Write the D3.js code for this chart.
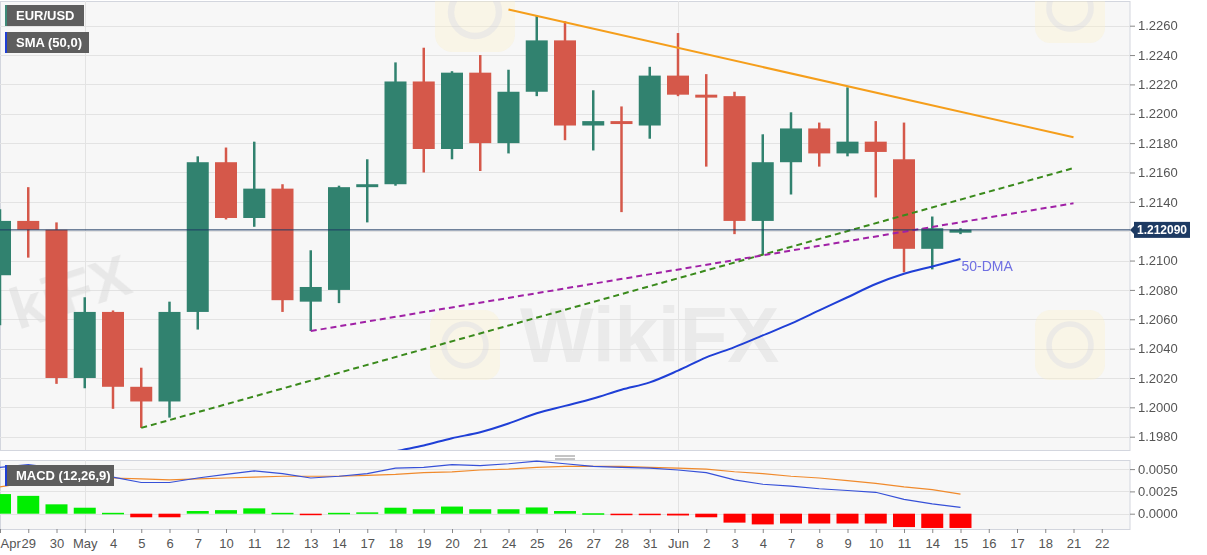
<!DOCTYPE html>
<html><head><meta charset="utf-8">
<script src="https://cdn.jsdelivr.net/npm/d3@7"></script>
<style>
body{margin:0;background:#fff;}
svg{display:block;font-family:"Liberation Sans",Arial,sans-serif;}
</style></head><body>
<svg id="c" width="1207" height="555"></svg>
<script>
// ---------- DATA ----------
const tickLabels = ["Apr","29","30","May","4","5","6","7","10","11","12","13","14","17","18","19","20","21","24","25","26","27","28","31","Jun","2","3","4","7","8","9","10","11","14","15","16","17","18","21","22"];
const monthStarts = [3, 24];
const open  = [1.2090,1.2127,1.2121,1.2020,1.2065,1.2014,1.2004,1.2065,1.2167,1.2129,1.2149,1.2072,1.2080,1.2150,1.2152,1.2222,1.2176,1.2228,1.2180,1.2215,1.2250,1.2192,1.2195,1.2192,1.2226,1.2213,1.2212,1.2127,1.2167,1.2190,1.2173,1.2181,1.2169,1.2108,1.2119];
const high  = [1.2135,1.2150,1.2126,1.2075,1.2066,1.2027,1.2072,1.2171,1.2177,1.2181,1.2152,1.2107,1.2151,1.2169,1.2235,1.2245,1.2229,1.2240,1.2230,1.2267,1.2263,1.2216,1.2205,1.2232,1.2255,1.2227,1.2215,1.2186,1.2201,1.2194,1.2218,1.2195,1.2194,1.2130,1.2122];
const low   = [1.2056,1.2102,1.2016,1.2013,1.1999,1.1986,1.1993,1.2053,1.2128,1.2123,1.2065,1.2052,1.2071,1.2126,1.2151,1.2160,1.2169,1.2161,1.2173,1.2212,1.2182,1.2175,1.2133,1.2183,1.2212,1.2164,1.2118,1.2104,1.2145,1.2164,1.2171,1.2143,1.2092,1.2094,1.2118];
const close = [1.2127,1.2121,1.2020,1.2065,1.2014,1.2004,1.2065,1.2167,1.2129,1.2149,1.2073,1.2082,1.2150,1.2152,1.2222,1.2176,1.2228,1.2180,1.2215,1.2250,1.2192,1.2195,1.2193,1.2226,1.2213,1.2211,1.2127,1.2167,1.2190,1.2173,1.2181,1.2174,1.2108,1.2122,1.2121];
const sma50 = [null,null,null,null,null,null,null,null,null,null,null,null,null,1.1965,1.1970,1.1974,1.1979,1.1983,1.1989,1.1996,1.2001,1.2006,1.2012,1.2017,1.2025,1.2034,1.2041,1.2049,1.2057,1.2066,1.2075,1.2084,1.2091,1.2096,1.2101];
const macdLine = [0.0052,0.0055,0.0051,0.0047,0.0041,0.0035,0.0035,0.0040,0.0044,0.0048,0.0045,0.0040,0.0042,0.0045,0.0051,0.0052,0.0055,0.0054,0.0056,0.0059,0.0056,0.0053,0.0052,0.0051,0.0049,0.0046,0.0038,0.0033,0.0031,0.0028,0.0026,0.0024,0.0016,0.0011,0.0007];
const signalLine = [0.0030,0.0035,0.0038,0.0040,0.0040,0.0039,0.0038,0.0039,0.0040,0.0041,0.0042,0.0042,0.0042,0.0043,0.0044,0.0046,0.0047,0.0049,0.0050,0.0052,0.0053,0.0053,0.0053,0.0052,0.0051,0.0050,0.0047,0.0045,0.0042,0.0040,0.0037,0.0034,0.0030,0.0027,0.0022];
const histogram = [0.0022,0.0020,0.00105,0.00067,0.0001,-0.0004,-0.0004,0.0003,0.0004,0.0006,0.0001,-0.00015,0.0001,0.00015,0.00067,0.0005,0.0008,0.0005,0.0005,0.0007,0.0003,0.00005,-0.0001,-0.0001,-0.0002,-0.0004,-0.0010,-0.0012,-0.0011,-0.0011,-0.0011,-0.0011,-0.0015,-0.0016,-0.0016];
const priceTicks = [1.1980,1.2000,1.2020,1.2040,1.2060,1.2080,1.2100,1.2120,1.2140,1.2160,1.2180,1.2200,1.2220,1.2240,1.2260];
const shownPriceTicks = [1.1980,1.2000,1.2020,1.2040,1.2060,1.2080,1.2100,1.2140,1.2160,1.2180,1.2200,1.2220,1.2240,1.2260];
const macdTicks = [0, 0.0025, 0.0050];
const lastPrice = 1.212090;
const resistance = [[18,1.2271],[38,1.2184]];
const supportGreen = [[5,1.1986],[38,1.2163]];
const supportPurple = [[11,1.2052],[38,1.2139]];

// ---------- LAYOUT ----------
const PR = 1130, mainTop = 1, mainBot = 450, macdTop = 460, macdBot = 529;
const svg = d3.select("#c");
const x = d3.scaleLinear().domain([0,40]).range([0,PR]);
const y = d3.scaleLinear().domain([1.1980,1.2260]).range([436.7,25.7]);
const ym = d3.scaleLinear().domain([0,0.005]).range([513.7,469.1]);
const GREEN = "#31826f", RED = "#d5584a";

const defs = svg.append("defs");
defs.append("clipPath").attr("id","cm").append("rect").attr("x",0).attr("y",mainTop).attr("width",PR).attr("height",mainBot-mainTop);
defs.append("clipPath").attr("id","cd").append("rect").attr("x",0).attr("y",macdTop).attr("width",PR).attr("height",macdBot-macdTop);

// panels
svg.append("rect").attr("x",0.5).attr("y",mainTop+0.5).attr("width",PR-0.5).attr("height",mainBot-mainTop).attr("fill","#f7f7f7").attr("stroke","#d3d6de");
svg.append("rect").attr("x",0.5).attr("y",macdTop+0.5).attr("width",PR-0.5).attr("height",macdBot-macdTop).attr("fill","#f7f7f7").attr("stroke","#d3d6de");

// grid
const gm = svg.append("g").attr("clip-path","url(#cm)");
gm.selectAll("line.h").data(priceTicks).join("line")
  .attr("x1",0).attr("x2",PR).attr("y1",d=>Math.round(y(d))+0.5).attr("y2",d=>Math.round(y(d))+0.5)
  .attr("stroke","#e3e3e3");
const gd = svg.append("g").attr("clip-path","url(#cd)");
gd.selectAll("line.h").data(macdTicks).join("line")
  .attr("x1",0).attr("x2",PR).attr("y1",d=>Math.round(ym(d))+0.5).attr("y2",d=>Math.round(ym(d))+0.5)
  .attr("stroke","#e3e3e3");
[gm,gd].forEach(g=>g.selectAll("line.v").data(monthStarts).join("line")
  .attr("x1",d=>Math.round(x(d))+0.5).attr("x2",d=>Math.round(x(d))+0.5)
  .attr("y1",0).attr("y2",555).attr("stroke","#e3e3e3"));

// watermarks
const wm = gm.append("g").attr("opacity",0.5);
function logo(cx,cy,s){
  wm.append("rect").attr("x",cx-s/2).attr("y",cy-s/2).attr("width",s).attr("height",s).attr("rx",s*0.22)
    .attr("fill","#fbefc8").attr("opacity",0.7);
  wm.append("circle").attr("cx",cx).attr("cy",cy).attr("r",s*0.3).attr("fill","none").attr("stroke","#e0ddd5").attr("stroke-width",s*0.08);
}
logo(475,12,80); logo(1070,8,70); logo(465,345,70); logo(1070,345,70);
wm.append("text").attr("x",520).attr("y",362).attr("font-size",78).attr("font-weight","bold").attr("fill","#dcdcdc").text("WikiFX");
wm.append("text").attr("transform","translate(18,330) rotate(-18)").attr("font-size",58).attr("font-weight","bold").attr("fill","#d8d8d8").text("kiFX");

// candles
const idx = d3.range(open.length);
const cg = gm.append("g");
cg.selectAll("line.w").data(idx).join("line")
  .attr("x1",i=>x(i)).attr("x2",i=>x(i)).attr("y1",i=>y(high[i])).attr("y2",i=>y(low[i]))
  .attr("stroke",i=>close[i]>=open[i]?GREEN:RED).attr("stroke-width",2.5);
cg.selectAll("rect.b").data(idx).join("rect")
  .attr("x",i=>x(i)-11).attr("width",22)
  .attr("y",i=>y(Math.max(open[i],close[i])))
  .attr("height",i=>Math.max(2,Math.abs(y(open[i])-y(close[i]))))
  .attr("fill",i=>close[i]>=open[i]?GREEN:RED);

// trend lines
const tl = d3.line().x(d=>x(d[0])).y(d=>y(d[1]));
gm.append("path").attr("d",tl(resistance)).attr("fill","none").attr("stroke","#f59e1b").attr("stroke-width",2);
gm.append("path").attr("d",tl(supportGreen)).attr("fill","none").attr("stroke","#3a8a1c").attr("stroke-width",2).attr("stroke-dasharray","6,4");
gm.append("path").attr("d",tl(supportPurple)).attr("fill","none").attr("stroke","#a021a6").attr("stroke-width",2).attr("stroke-dasharray","6,4");

// SMA
const smaLine = d3.line().defined(i=>sma50[i]!==null).x(i=>x(i)).y(i=>y(sma50[i])).curve(d3.curveMonotoneX);
gm.append("path").attr("d",smaLine(idx)).attr("fill","none").attr("stroke","#1f3fd6").attr("stroke-width",2);
gm.append("text").attr("x",x(34)+1).attr("y",y(sma50[34])+12).attr("font-size",14).attr("fill","#6f6fe2").text("50-DMA");

// last price line
gm.append("line").attr("x1",0).attr("x2",PR).attr("y1",y(lastPrice)).attr("y2",y(lastPrice)).attr("stroke","#1d3a63").attr("stroke-width",1);

// MACD
gd.selectAll("rect.h").data(idx).join("rect")
  .attr("x",i=>x(i)-11).attr("width",22)
  .attr("y",i=>ym(Math.max(0,histogram[i])))
  .attr("height",i=>Math.max(1.5,Math.abs(ym(histogram[i])-ym(0))))
  .attr("fill",i=>histogram[i]>=0?"#00ee00":"#ff0000");
const ml = arr => d3.line().x(i=>x(i)).y(i=>ym(arr[i]))(idx);
gd.append("path").attr("d",ml(signalLine)).attr("fill","none").attr("stroke","#f08a2c").attr("stroke-width",1.2);
gd.append("path").attr("d",ml(macdLine)).attr("fill","none").attr("stroke","#3650d8").attr("stroke-width",1.2);

// handle
[456,459].forEach(yy=>svg.append("line").attr("x1",555).attr("x2",575).attr("y1",yy).attr("y2",yy).attr("stroke","#8a8a8a"));

// axes
function styleAxis(g){
  g.select(".domain").remove();
  g.selectAll(".tick line").attr("stroke","#888");
  g.selectAll(".tick text").attr("fill","#555").attr("font-size",13).attr("font-family","'Liberation Sans',Arial,sans-serif");
}
svg.append("g").attr("transform",`translate(${PR},0)`)
  .call(d3.axisRight(y).tickValues(shownPriceTicks).tickSize(5).tickPadding(3).tickFormat(d3.format(".4f")))
  .call(styleAxis);
svg.append("g").attr("transform",`translate(${PR},0)`)
  .call(d3.axisRight(ym).tickValues(macdTicks).tickSize(5).tickPadding(3).tickFormat(d3.format(".4f")))
  .call(styleAxis);
const xa = svg.append("g").attr("transform",`translate(0,${macdBot})`)
  .call(d3.axisBottom(x).tickValues(d3.range(tickLabels.length)).tickSize(4).tickPadding(6).tickFormat(i=>tickLabels[i]))
  .call(styleAxis);
xa.selectAll(".tick").filter(d=>d===0).select("text").attr("text-anchor","start").attr("x",0);

// last price label
const ly = y(lastPrice);
svg.append("path").attr("d",`M${PR},${ly} L${PR+4},${ly-4} L${PR+4},${ly+4} Z`).attr("fill","#1d3a63");
svg.append("rect").attr("x",PR+4).attr("y",ly-8).attr("width",56).attr("height",16).attr("fill","#1d3a63");
svg.append("text").attr("x",PR+32).attr("y",ly).attr("dy","0.35em").attr("text-anchor","middle")
  .attr("fill","#fff").attr("font-size",12).attr("font-weight","bold").text(d3.format(".6f")(lastPrice));

// legend boxes
function legendBox(x0,y0,w,h,label,accent){
  svg.append("rect").attr("x",x0).attr("y",y0).attr("width",w).attr("height",h).attr("fill","#5e5e5e");
  svg.append("rect").attr("x",x0).attr("y",y0).attr("width",2).attr("height",h).attr("fill",accent);
  svg.append("text").attr("x",x0+11).attr("y",y0+h/2).attr("dy","0.35em").attr("fill","#fff")
    .attr("font-size",13).attr("font-weight","bold").text(label);
}
legendBox(5,5,79,21,"EUR/USD","#3e8a78");
legendBox(5,32,84,21,"SMA (50,0)","#1f3fd6");
legendBox(5,465,109,21,"MACD (12,26,9)","#1f3fd6");
</script>
</body></html>
